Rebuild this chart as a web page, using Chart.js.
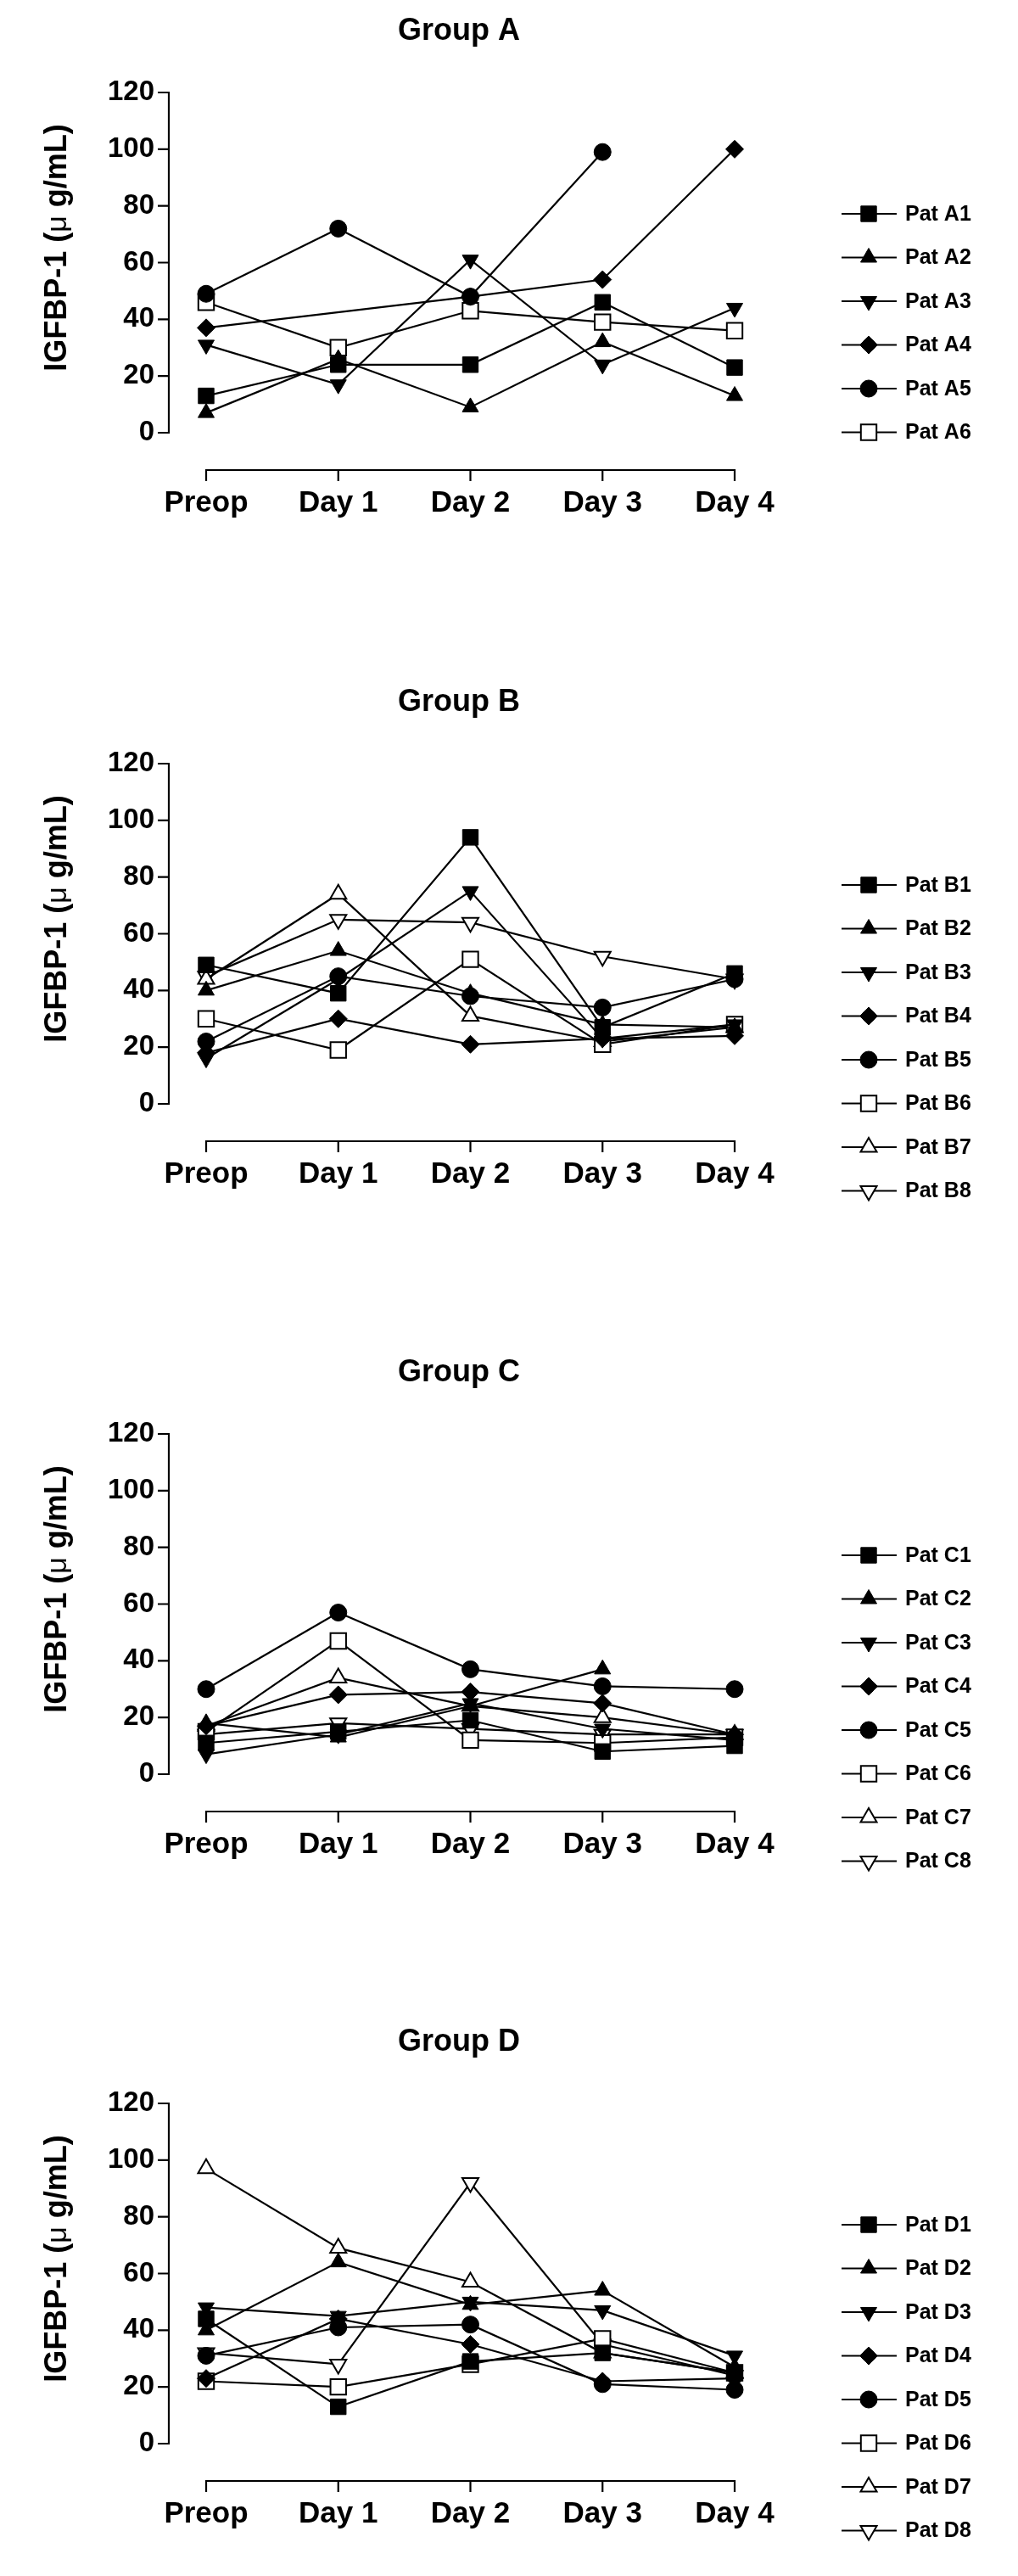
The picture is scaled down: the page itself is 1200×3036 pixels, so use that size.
<!DOCTYPE html>
<html>
<head>
<meta charset="utf-8">
<title>IGFBP-1 by group</title>
<script src="https://cdn.jsdelivr.net/npm/chart.js@4.4.1/dist/chart.umd.min.js"></script>
<style>
  html, body { margin: 0; padding: 0; background: #ffffff; }
  #page { position: relative; width: 1200px; height: 3036px; }
  #page canvas { position: absolute; left: 0; }
</style>
</head>
<body>
<div id="page">
  <canvas id="chartA" width="1200" height="790" style="top:0px"></canvas>
  <canvas id="chartB" width="1200" height="790" style="top:791px"></canvas>
  <canvas id="chartC" width="1200" height="790" style="top:1581px"></canvas>
  <canvas id="chartD" width="1200" height="666" style="top:2370px"></canvas>
</div>
<script>
// -----------------------------
// DATA
// -----------------------------
const days = ["Preop", "Day 1", "Day 2", "Day 3", "Day 4"];
const yTicks = [0, 20, 40, 60, 80, 100, 120];

const namesA = ["Pat A1", "Pat A2", "Pat A3", "Pat A4", "Pat A5", "Pat A6"];
const groupA = [
  [13, 24, 24, 46, 23],
  [7, 26, 9, 32, 13],
  [31, 17, 61, 24, 44],
  [37, null, 48, 54, 100],
  [49, 72, 48, 99, null],
  [46, 30, 43, 39, 36],
];

const namesB = ["Pat B1", "Pat B2", "Pat B3", "Pat B4", "Pat B5", "Pat B6", "Pat B7", "Pat B8"];
const groupB = [
  [49, 39, 94, 27, 46],
  [40, 54, 39, 28, 27],
  [16, 44, 75, 23, 28],
  [18, 30, 21, 23, 24],
  [22, 45, 38, 34, 44],
  [30, 19, 51, 21, 28],
  [44, 74, 31, 22, 27],
  [45, 65, 64, 52, 44],
];

const namesC = ["Pat C1", "Pat C2", "Pat C3", "Pat C4", "Pat C5", "Pat C6", "Pat C7", "Pat C8"];
const groupC = [
  [11, 15, 19, 8, 10],
  [18, 13, 24, 37, null],
  [7, 14, 25, 16, 12],
  [17, 28, 29, 25, 14],
  [30, 57, 37, 31, 30],
  [15, 47, 12, 11, 13],
  [17, 34, 24, 20, 14],
  [14, 18, 16, 14, 14],
];

const namesD = ["Pat D1", "Pat D2", "Pat D3", "Pat D4", "Pat D5", "Pat D6", "Pat D7", "Pat D8"];
const groupD = [
  [44, 13, 29, 32, 25],
  [40, 64, 49, 54, 27],
  [48, 45, 50, 47, 31],
  [23, 44, 35, 22, 23],
  [31, 41, 42, 21, 19],
  [22, 20, 28, 37, 25],
  [97, 69, 57, 32, 25],
  [32, 28, 92, 35, 24],
];

// -----------------------------
// STYLE
// -----------------------------
const FONT = '"Liberation Sans", Arial, Helvetica, sans-serif';
Chart.defaults.font.family = FONT;
Chart.defaults.color = "#000";

const LINE_W = 2.2;

const markers = [
  { style: "rect", rot: 0, fill: "#000", r: 13 },
  { style: "triangle", rot: 0, fill: "#000", r: 11 },
  { style: "triangle", rot: 180, fill: "#000", r: 11 },
  { style: "rectRot", rot: 0, fill: "#000", r: 10.5 },
  { style: "circle", rot: 0, fill: "#000", r: 10 },
  { style: "rect", rot: 0, fill: "#fff", r: 13 },
  { style: "triangle", rot: 0, fill: "#fff", r: 11 },
  { style: "triangle", rot: 180, fill: "#fff", r: 11 },
];

// plot geometry inside each panel canvas
const AXIS_X = 199;      // y axis line
const PLOT_RIGHT = 866;  // Day 4
const TOP = 109;         // value 120
const XAXIS_Y = 554;     // x axis line
const ZERO_Y = 510;      // value 0
const FIRST_CAT = 243;   // Preop

const pxPerUnit = (ZERO_Y - TOP) / 120;
const yMin = -(XAXIS_Y - ZERO_Y) / pxPerUnit;
const xMin = -(FIRST_CAT - AXIS_X) / ((PLOT_RIGHT - FIRST_CAT) / 4);

// legend marker (same geometry as Chart.js point styles)
function drawMarker(ctx, m, x, y) {
  ctx.save();
  ctx.beginPath();
  if (m.style === "rect") {
    const s = Math.SQRT1_2 * m.r;
    ctx.rect(x - s, y - s, 2 * s, 2 * s);
  } else if (m.style === "rectRot") {
    ctx.moveTo(x, y - m.r);
    ctx.lineTo(x + m.r, y);
    ctx.lineTo(x, y + m.r);
    ctx.lineTo(x - m.r, y);
    ctx.closePath();
  } else if (m.style === "circle") {
    ctx.arc(x, y, m.r, 0, Math.PI * 2);
  } else {
    let a = (m.rot * Math.PI) / 180;
    for (let k = 0; k < 3; k++) {
      const px = x + Math.sin(a) * m.r;
      const py = y - Math.cos(a) * m.r;
      if (k === 0) ctx.moveTo(px, py); else ctx.lineTo(px, py);
      a += (2 * Math.PI) / 3;
    }
    ctx.closePath();
  }
  ctx.fillStyle = m.fill;
  ctx.fill();
  ctx.lineWidth = m.fill === "#fff" ? 2 : 1;
  ctx.strokeStyle = "#000";
  ctx.stroke();
  ctx.restore();
}

// axes, title, y title and legend
const panelDecor = {
  id: "panelDecor",
  afterDraw(chart, args, opts) {
    const ctx = chart.ctx;
    const xs = chart.scales.x;
    const ys = chart.scales.y;
    const area = chart.chartArea;
    ctx.save();
    ctx.strokeStyle = "#000";
    ctx.fillStyle = "#000";
    ctx.lineWidth = LINE_W;

    // y axis
    const ax = area.left;
    ctx.beginPath();
    ctx.moveTo(ax, ys.getPixelForValue(0) + 1);
    ctx.lineTo(ax, ys.getPixelForValue(120) - 1);
    yTicks.forEach((v) => {
      const py = ys.getPixelForValue(v);
      ctx.moveTo(ax - 13, py);
      ctx.lineTo(ax + 1, py);
    });
    ctx.stroke();

    // x axis
    const ay = area.bottom;
    ctx.beginPath();
    ctx.moveTo(xs.getPixelForValue(0) - 1, ay);
    ctx.lineTo(xs.getPixelForValue(4) + 1, ay);
    days.forEach((d, i) => {
      const px = xs.getPixelForValue(i);
      ctx.moveTo(px, ay - 1);
      ctx.lineTo(px, ay + 13);
    });
    ctx.stroke();

    // panel title
    ctx.font = "bold 36px " + FONT;
    ctx.textAlign = "center";
    ctx.textBaseline = "alphabetic";
    ctx.fillText(opts.title, 541, 47);

    // y axis title, rotated
    const parts = [
      { t: "IGFBP-1 (", f: "bold 36px " + FONT },
      { t: "\u03bc", f: "34px " + FONT },
      { t: " g/mL)", f: "bold 36px " + FONT },
    ];
    let total = 0;
    parts.forEach((p) => { ctx.font = p.f; p.w = ctx.measureText(p.t).width; total += p.w; });
    ctx.translate(78, 292);
    ctx.rotate(-Math.PI / 2);
    ctx.textAlign = "left";
    let cx = -total / 2;
    parts.forEach((p) => { ctx.font = p.f; ctx.fillText(p.t, cx, 0); cx += p.w; });
    ctx.setTransform(1, 0, 0, 1, 0, 0);

    // legend
    ctx.font = "bold 25px " + FONT;
    ctx.textAlign = "left";
    ctx.textBaseline = "middle";
    opts.names.forEach((n, i) => {
      const ry = 252 + i * 51.5;
      ctx.lineWidth = LINE_W;
      ctx.beginPath();
      ctx.moveTo(992, ry);
      ctx.lineTo(1057, ry);
      ctx.stroke();
      drawMarker(ctx, markers[i], 1024, ry);
      ctx.fillStyle = "#000";
      ctx.fillText(n, 1067, ry + 1);
    });
    ctx.restore();
  },
};

function makePanel(id, title, names, rows) {
  const canvas = document.getElementById(id);
  const h = canvas.height;
  return new Chart(canvas, {
    type: "line",
    data: {
      datasets: rows.map((vals, i) => {
        const m = markers[i];
        return {
          label: names[i],
          data: vals.map((v, j) => ({ x: j, y: v })),
          borderColor: "#000",
          borderWidth: LINE_W,
          tension: 0,
          fill: false,
          spanGaps: true,
          clip: false,
          pointStyle: m.style,
          pointRotation: m.rot,
          pointRadius: m.r,
          pointHoverRadius: m.r,
          pointBackgroundColor: m.fill,
          pointBorderColor: "#000",
          pointBorderWidth: m.fill === "#fff" ? 2 : 1,
        };
      }),
    },
    options: {
      responsive: false,
      animation: false,
      devicePixelRatio: 1,
      events: [],
      layout: {
        padding: { left: 0, top: TOP, right: 1200 - PLOT_RIGHT, bottom: h - XAXIS_Y - 80 },
      },
      plugins: {
        legend: { display: false },
        title: { display: false },
        tooltip: { enabled: false },
        panelDecor: { title: title, names: names },
      },
      scales: {
        x: {
          type: "linear",
          min: xMin,
          max: 4,
          grid: { display: false, drawTicks: false },
          border: { display: false },
          afterBuildTicks: (s) => { s.ticks = days.map((d, i) => ({ value: i })); },
          afterFit: (s) => { s.height = 80; },
          ticks: {
            callback: (v) => days[v],
            autoSkip: false,
            maxRotation: 0,
            minRotation: 0,
            padding: 18,
            color: "#000",
            font: { size: 35, weight: "bold" },
          },
        },
        y: {
          min: yMin,
          max: 120,
          grid: { display: false, drawTicks: false },
          border: { display: false },
          afterBuildTicks: (s) => { s.ticks = yTicks.map((v) => ({ value: v })); },
          afterFit: (s) => { s.width = AXIS_X; },
          ticks: {
            padding: 17,
            color: "#000",
            font: { size: 33, weight: "bold" },
          },
        },
      },
    },
    plugins: [panelDecor],
  });
}

makePanel("chartA", "Group A", namesA, groupA);
makePanel("chartB", "Group B", namesB, groupB);
makePanel("chartC", "Group C", namesC, groupC);
makePanel("chartD", "Group D", namesD, groupD);
</script>
</body>
</html>
